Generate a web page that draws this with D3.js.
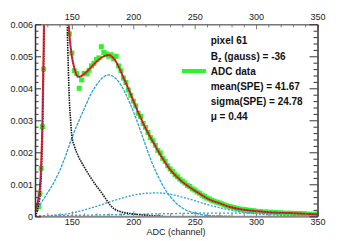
<!DOCTYPE html>
<html><head><meta charset="utf-8">
<script src="https://cdn.jsdelivr.net/npm/d3@7"></script>
<style>body{margin:0;background:#fff}svg{display:block}text{font-family:"Liberation Sans",Arial,Helvetica,sans-serif}</style>
</head><body><svg id="c" width="354" height="241"></svg>
<script>
// ---- data ----
const xTicks = [150, 200, 250, 300, 350];
const yTicks = [0, 0.001, 0.002, 0.003, 0.004, 0.005, 0.006];
const yTickLabels = ["0", "0.001", "0.002", "0.003", "0.004", "0.005", "0.006"];
const legendLines = ["pixel 61", "B_z (gauss) = -36", "ADC data", "mean(SPE) = 41.67", "sigma(SPE) = 24.78", "\u03bc = 0.44"];

const dataX = [123,124,125,126,127,148,150,152,154,156,158,160,162,164,166,168,170,172,174,176,178,180,182,184,186,188,190,192,194,196,198,200,202,204,206,208,210,212,214,216,218,220,222,224,226,228,230,232,234,236,238,240,242,244,246,248,250,252,254,256,258,260,262,264,266,268,270,272,274,276,278,280,282,284,286,288,290,292,294,296,298,300,304,308,312,316,320,324,328,332,336,340,344,348];
const dataY = [0.0003,0.0007,0.0015,0.0028,0.0046,0.0057,0.0051,0.00455,0.00446,0.00400,0.00426,0.00447,0.00445,0.00456,0.00470,0.00478,0.00490,0.00495,0.00530,0.00512,0.00508,0.00500,0.00505,0.00492,0.00500,0.00470,0.00455,0.00432,0.00418,0.00395,0.00378,0.00360,0.00345,0.00322,0.00312,0.00290,0.00278,0.00262,0.00246,0.00236,0.00222,0.00206,0.00198,0.00181,0.00172,0.00158,0.00148,0.00140,0.00130,0.00124,0.00116,0.00110,0.00104,0.00097,0.00093,0.00086,0.00082,0.00076,0.00072,0.00066,0.00062,0.00057,0.00054,0.00050,0.00047,0.00044,0.00042,0.00039,0.00036,0.00033,0.00031,0.00029,0.00027,0.00025,0.00023,0.00022,0.00021,0.00020,0.00019,0.00018,0.00017,0.00016,0.00015,0.00014,0.00013,0.00012,0.00011,0.00010,0.00010,0.00009,0.00009,0.00008,0.00007,0.00007];

const fitX = [120,122,123,124,125,126,127,128,131,136,141,144,146,147,148,149,150,151,153,155,157,160,163,166,170,175,180,183,186,189,193,197,200,204,207,211,216,221,226,230,235,240,245,250,255,262,270,278,287,295,310,327,350];
const fitY = [0.0002,0.0004,0.0006,0.0009,0.0016,0.0029,0.0052,0.0082,0.017,0.023,0.018,0.0115,0.0080,0.0064,0.0057,0.0053,0.0050,0.0048,0.00450,0.00436,0.00437,0.00445,0.00455,0.00467,0.00483,0.00498,0.00504,0.00498,0.00483,0.00460,0.00425,0.00390,0.00362,0.00325,0.00300,0.00268,0.00233,0.00199,0.00168,0.00146,0.00125,0.00107,0.00093,0.00080,0.00068,0.00052,0.00041,0.00030,0.00022,0.00018,0.00013,0.00010,0.00006];

const pedX = [120,122,123,124,125,126,127,128,131,136,141,144,146,147,148,149,150,152,155,158,161,165,169,173,177,181,185,190,197,205,215,225];
const pedY = [0,0.0002,0.0004,0.0006,0.0012,0.0024,0.0045,0.0075,0.016,0.022,0.016,0.0095,0.0064,0.0048,0.0036,0.0030,0.0025,0.0022,0.0019,0.00168,0.00148,0.00123,0.00100,0.00080,0.00058,0.00036,0.00022,0.00014,0.00009,0.00005,0.00002,0];

const speX = [120,125,130,135,140,145,150,155,160,165,170,175,180,185,190,195,200,205,210,215,220,225,230,235,240,245,250,260,270,280];
const speY = [0.00015,0.00042,0.00072,0.00103,0.00142,0.00190,0.00245,0.00292,0.00335,0.00378,0.00410,0.00433,0.00442,0.00433,0.00410,0.00373,0.00328,0.00277,0.00222,0.00170,0.00127,0.00090,0.00062,0.00041,0.00026,0.00016,0.00010,0.00003,0.00001,0];

const twoX = [130,140,150,160,170,180,190,200,210,220,230,240,250,260,270,280,290,300,320,340,350];
const twoY = [0.00002,0.00005,0.0001,0.0002,0.00031,0.00044,0.00056,0.00066,0.00072,0.00073,0.00069,0.0006,0.00049,0.00037,0.00027,0.00019,0.00012,0.00008,0.00003,0.00001,0.00001];

const bgX = [120,150,180,210,240,270,300,330,350];
const bgY = [0.00002,0.00003,0.00005,0.00007,0.00009,0.0001,0.0001,0.00009,0.00008];

// ---- drawing ----
const svg = d3.select("#c");
const x = d3.scaleLinear().domain([120, 350]).range([35, 317.5]);
const y = d3.scaleLinear().domain([0, 0.006]).range([216.3, 24.3]);
const L = 35, R = 317.5, T = 24.3, B = 216.3;

svg.append("clipPath").attr("id", "clip").append("rect")
  .attr("x", L).attr("y", T).attr("width", R - L).attr("height", B - T);
const plot = svg.append("g").attr("clip-path", "url(#clip)");

const line = (xs, ys) => d3.line().x((d, i) => x(xs[i])).y(d => y(d)).curve(d3.curveMonotoneX)(ys);

// data squares
plot.append("g").selectAll("rect").data(dataY).join("rect")
  .attr("x", (d, i) => x(dataX[i]) - 2.5).attr("y", d => y(d) - 2.5)
  .attr("width", 5).attr("height", 5).attr("fill", "#2cf52c");

// components
plot.append("path").attr("d", line(bgX, bgY)).attr("fill", "none")
  .attr("stroke", "#2aa2d8").attr("stroke-width", 1.3).attr("stroke-dasharray", "2,2");
plot.append("path").attr("d", line(twoX, twoY)).attr("fill", "none")
  .attr("stroke", "#2aa2d8").attr("stroke-width", 1.3).attr("stroke-dasharray", "2,1.5");
plot.append("path").attr("d", line(speX, speY)).attr("fill", "none")
  .attr("stroke", "#2aa2d8").attr("stroke-width", 1.3).attr("stroke-dasharray", "3,1");
plot.append("path").attr("d", line(pedX, pedY)).attr("fill", "none")
  .attr("stroke", "#111").attr("stroke-width", 1.6).attr("stroke-dasharray", "1.5,1");

// fit
plot.append("path").attr("d", line(fitX, fitY)).attr("fill", "none")
  .attr("stroke", "#f02020").attr("stroke-width", 2);
plot.append("path").attr("d", line(fitX, fitY)).attr("fill", "none")
  .attr("stroke", "#2020c0").attr("stroke-width", 1).attr("stroke-dasharray", "1,2");

// axes
const fmtY = d => yTickLabels[yTicks.indexOf(d)] ?? "";
const minorX = d3.range(130, 351, 10).filter(v => v % 50 !== 0);
const minorY = d3.range(1, 30).map(i => i * 0.0002).filter(v => Math.abs(v * 1000 - Math.round(v * 1000)) > 1e-6);

function style(g, color, w) {
  g.select(".domain").attr("stroke", color).attr("stroke-width", w);
  g.selectAll(".tick line").attr("stroke", color);
  g.selectAll("text").attr("fill", "#222").attr("font-size", 9);
}
const gB = svg.append("g").attr("transform", `translate(0,${B})`)
  .call(d3.axisBottom(x).tickValues(xTicks).tickSize(-5).tickPadding(2).tickSizeOuter(0));
style(gB, "#888", 2);
svg.append("g").attr("transform", `translate(0,${B})`)
  .call(d3.axisBottom(x).tickValues(minorX).tickSize(-3).tickFormat("").tickSizeOuter(0))
  .call(g => style(g, "#888", 0));
const gT = svg.append("g").attr("transform", `translate(0,${T})`)
  .call(d3.axisTop(x).tickValues(xTicks).tickSize(-5).tickPadding(4).tickSizeOuter(0));
style(gT, "#777", 1.5);
svg.append("g").attr("transform", `translate(0,${T})`)
  .call(d3.axisTop(x).tickValues(minorX).tickSize(-3).tickFormat("").tickSizeOuter(0))
  .call(g => style(g, "#777", 0));
const gL = svg.append("g").attr("transform", `translate(${L},0)`)
  .call(d3.axisLeft(y).tickValues(yTicks).tickFormat(fmtY).tickSize(-6).tickPadding(2).tickSizeOuter(0));
style(gL, "#333", 1.5);
svg.append("g").attr("transform", `translate(${L},0)`)
  .call(d3.axisLeft(y).tickValues(minorY).tickSize(-3.5).tickFormat("").tickSizeOuter(0))
  .call(g => style(g, "#333", 0));
const gR = svg.append("g").attr("transform", `translate(${R},0)`)
  .call(d3.axisRight(y).tickValues(yTicks).tickSize(-8).tickFormat("").tickSizeOuter(0));
style(gR, "#333", 1.5);
svg.append("g").attr("transform", `translate(${R},0)`)
  .call(d3.axisRight(y).tickValues(minorY).tickSize(-4).tickFormat("").tickSizeOuter(0))
  .call(g => style(g, "#333", 0));

svg.append("text").attr("x", 176).attr("y", 234.5).attr("text-anchor", "middle")
  .attr("font-size", 9).attr("fill", "#222").text("ADC (channel)");

// legend
const lg = svg.append("g").attr("font-size", 10).attr("font-weight", "bold").attr("fill", "#111");
const baseY = [43.5, 59.5, 74.5, 89.5, 104.5, 119.5];
legendLines.forEach((t, i) => {
  const tx = lg.append("text").attr("x", 210.7).attr("y", baseY[i]);
  if (t.startsWith("B_z")) {
    tx.append("tspan").text("B");
    tx.append("tspan").attr("font-size", 7).attr("dy", 2).text("z");
    tx.append("tspan").attr("dy", -2).text(t.slice(3));
  } else tx.text(t);
});
lg.append("line").attr("x1", 182).attr("x2", 206).attr("y1", 71).attr("y2", 71)
  .attr("stroke", "#2cf52c").attr("stroke-width", 4);
</script></body></html>
